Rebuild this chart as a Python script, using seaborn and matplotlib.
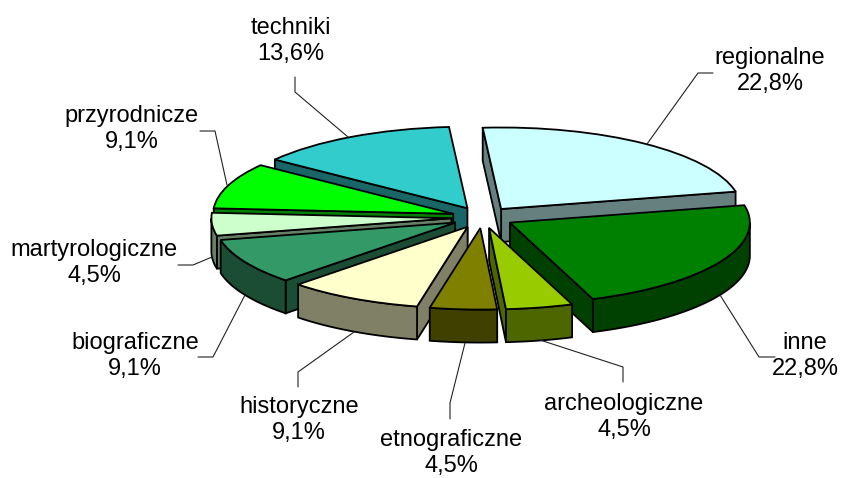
import numpy as np
import matplotlib
matplotlib.use('Agg')
import matplotlib.pyplot as plt
from matplotlib.lines import Line2D
from matplotlib.patches import Polygon
import seaborn as sns

categories = ['regionalne', 'inne', 'archeologiczne', 'etnograficzne', 'historyczne',
              'biograficzne', 'martyrologiczne', 'przyrodnicze', 'techniki']
shares = [22.8, 22.8, 4.5, 4.5, 9.1, 9.1, 4.5, 9.1, 13.6]
slice_colors = ['#CCFFFF', '#008000', '#99CC00', '#808000', '#FFFFCC',
                '#339966', '#CCFFCC', '#00FF00', '#33CCCC']

# where the labels sit, in pixels of the picture
label_xy = [(770, 71), (805, 356), (624, 417), (451, 453), (299, 420),
            (135, 356), (94, 263), (132, 129), (291, 41)]
leaders = [[(647, 144), (698, 73), (713, 73)],
           [(720, 295), (759, 357), (775, 357)],
           [(540, 340), (623, 367), (623, 382)],
           [(465, 343), (450, 403), (450, 419)],
           [(354, 332), (298, 372), (298, 387)],
           [(245, 295), (213, 357), (198, 357)],
           [(212, 257), (193, 265), (178, 265)],
           [(227, 185), (215, 131), (200, 131)],
           [(348, 137), (295, 92), (295, 77)]]

W, H = 845, 478
cx, cy = 482.5, 217.5   # pie centre, px
rx, ry = 240, 81.5      # ellipse radii, px
depth = 33 / ry         # thickness in data units
explode = 0.13
start = 94.4

sns.set_theme(style='white')
plt.rcParams['font.family'] = ['Liberation Sans', 'DejaVu Sans']

fig = plt.figure(figsize=(W / 100, H / 100), dpi=100)
ax = fig.add_axes([0, 0, 1, 1])
palette = sns.color_palette(slice_colors)

wedges, _ = ax.pie(shares, explode=[explode] * len(shares), colors=palette, startangle=start,
                   counterclock=False, wedgeprops={'edgecolor': 'black', 'linewidth': 1.3})
ax.set_aspect('auto')
ax.set_xlim(-cx / rx, (W - cx) / rx)
ax.set_ylim(-(H - cy) / ry, cy / ry)
ax.axis('off')


def side(points, color, z):
    # extrude a line of the top face straight down
    points = np.asarray(points)
    low = points - [0, depth]
    ax.add_patch(Polygon(np.vstack([points, low[::-1]]), closed=True, facecolor=color,
                         edgecolor='black', linewidth=1.3, zorder=z))


mids = [np.radians((w.theta1 + w.theta2) / 2) for w in wedges]
order = np.argsort(-np.sin(mids))

for rank, i in enumerate(order):
    w = wedges[i]
    z = 2 + rank * 2
    w.set_zorder(z + 1)
    dark = tuple(np.array(palette[i]) * 0.5)
    tip = np.array(w.center)
    inside = tip + np.array([np.cos(mids[i]), np.sin(mids[i])])
    for t in (w.theta1, w.theta2):
        a = np.radians(t)
        out = tip + np.array([np.cos(a), np.sin(a)])
        d = out - tip
        # a radial face shows only if the slice lies above its edge
        if np.cross(d, inside - tip) * np.cross(d, [0, -1]) < 0:
            side([tip, out], dark, z)
    # outer rim, front half only
    t = np.radians(np.linspace(w.theta1, w.theta2, 120))
    t = t[np.sin(t) < 0]
    if len(t) > 1:
        side(tip + np.c_[np.cos(t), np.sin(t)], dark, z)

for name, value, (x, y), line in zip(categories, shares, label_xy, leaders):
    pct = f'{value:.1f}'.replace('.', ',') + '%'
    fig.text(x / W, 1 - y / H, name + '\n' + pct, ha='center', va='center',
             fontsize=17, color='black', linespacing=1.27)
    xs = [p[0] / W for p in line]
    ys = [1 - p[1] / H for p in line]
    fig.add_artist(Line2D(xs, ys, color='#222222', linewidth=0.8))

fig.savefig('out.png', dpi=100)
